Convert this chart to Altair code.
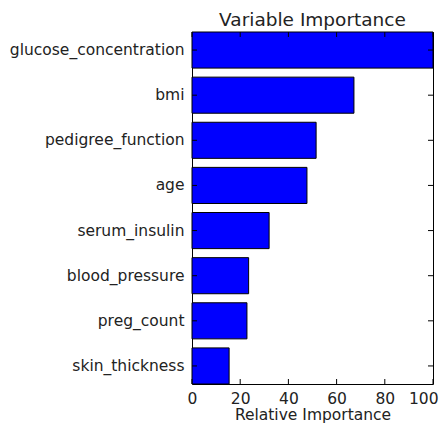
import altair as alt
import pandas as pd

features = ["glucose_concentration", "bmi", "pedigree_function", "age",
            "serum_insulin", "blood_pressure", "preg_count", "skin_thickness"]
importance = [100.0, 67.2, 51.5, 47.7, 32.0, 23.5, 22.8, 15.4]
x_ticks = [0, 20, 40, 60, 80, 100]

W, H = 241, 352
TICK = 5
FONT = "DejaVu Sans"

df = pd.DataFrame({"feature": features, "importance": importance})
tick_df = pd.DataFrame({"v": x_ticks})

xscale = alt.Scale(domain=[0, 100], nice=False, zero=True)
yscale = alt.Scale(paddingInner=0.2, paddingOuter=0)

bars = alt.Chart(df).mark_bar(color="#0000ff", stroke="black", strokeWidth=1).encode(
    x=alt.X("importance:Q", scale=xscale,
            axis=alt.Axis(title="Relative Importance", values=x_ticks, tickSize=0,
                          labelPadding=7, domain=False, grid=False, titlePadding=1,
                          labelFlush=True, labelFlushOffset=5)),
    y=alt.Y("feature:N", sort=features, scale=yscale,
            axis=alt.Axis(title=None, tickSize=0, labelPadding=8, domain=False, grid=False)),
)

xt_bottom = alt.Chart(tick_df).mark_rule(color="black", strokeWidth=1).encode(
    x=alt.X("v:Q", scale=xscale), y=alt.value(H), y2=alt.value(H - TICK))
xt_top = alt.Chart(tick_df).mark_rule(color="black", strokeWidth=1).encode(
    x=alt.X("v:Q", scale=xscale), y=alt.value(0), y2=alt.value(TICK))
yt_left = alt.Chart(df).mark_rule(color="black", strokeWidth=1).encode(
    y=alt.Y("feature:N", sort=features, scale=yscale), x=alt.value(0), x2=alt.value(TICK))
yt_right = alt.Chart(df).mark_rule(color="black", strokeWidth=1).encode(
    y=alt.Y("feature:N", sort=features, scale=yscale), x=alt.value(W), x2=alt.value(W - TICK))

chart = alt.layer(bars, xt_bottom, xt_top, yt_left, yt_right).properties(
    width=W, height=H,
    title=alt.TitleParams("Variable Importance", fontSize=18.5, font=FONT,
                          fontWeight="normal", color="#222", offset=2),
    autosize=alt.AutoSizeParams(type="none"),
    padding={"left": 184, "top": 24, "right": 6, "bottom": 39},
).configure_view(stroke="black", strokeWidth=1).configure_axis(
    labelFont=FONT, titleFont=FONT, labelFontSize=15.5, titleFontSize=15.5,
    labelColor="#222", titleColor="#222", titleFontWeight="normal"
)

chart.save("out.html", embed_options={"renderer": "svg", "actions": False})
